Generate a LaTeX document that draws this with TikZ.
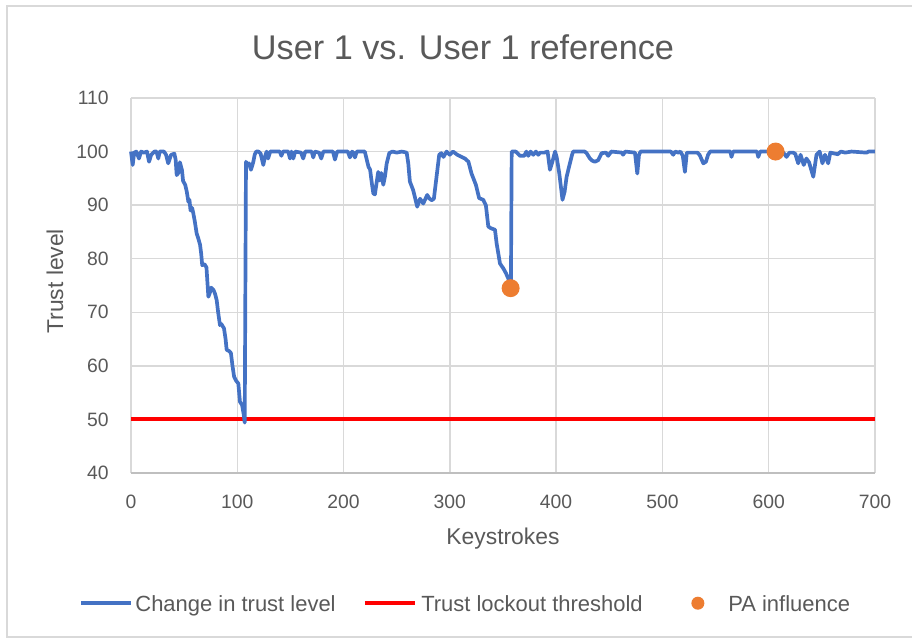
\documentclass[tikz,border=0pt]{standalone}
\usepackage{fontspec}
\setmainfont{Liberation Sans}
\definecolor{trustblue}{HTML}{4472C4}
\definecolor{lockred}{HTML}{FF0000}
\definecolor{paorange}{HTML}{ED7D31}
\definecolor{gridgray}{HTML}{D9D9D9}
\definecolor{axisgray}{HTML}{BFBFBF}
\definecolor{textgray}{HTML}{595959}
\begin{document}
\begin{tikzpicture}[
  ticklab/.style={text=textgray,font=\fontsize{11}{13}\selectfont},
  axlab/.style={text=textgray,font=\fontsize{13}{15}\selectfont},
  leglab/.style={text=textgray,font=\fontsize{12.5}{15}\selectfont,anchor=base west,inner sep=0pt},
  gridline/.style={draw=gridgray,line width=.8pt},
  padot/.style={circle,fill=paorange,inner sep=0pt,minimum size=.36cm}]
\useasboundingbox (0,0) rectangle (18.24,12.76);
\draw[gridgray,line width=1pt] (0.14,0.02) rectangle (18.4,12.64);
\begin{scope}[shift={(2.62,-0.986)},x=0.021257cm,y=0.10714cm]
\foreach \y in {50,60,...,110}
\draw[gridline] (700,\y) -- (0,\y) node[ticklab,anchor=east,xshift=-9pt] {\y};
\foreach \x in {0,100,...,700}
\draw[gridline] (\x,110) -- (\x,40) node[ticklab,anchor=north,yshift=-9pt] {\x};
\draw[axisgray,line width=.8pt] (700,40) -- (0,40) node[ticklab,anchor=east,xshift=-9pt] {40};
\draw[lockred,line width=2.2pt] (0,50) -- (700,50); % lockout at 50
\draw[trustblue,line width=2.1pt,line join=round] plot coordinates {
  (0,100) (1.6,97.5) (3,99.8) (5,100) (7.5,98.7) (9.5,100) (12,99.8) (15,100)
  (17,98.1) (19,99.4) (22,100) (24,100) (25.7,98.7) (27,100) (31,100) (33,99.4)
  (35,97.8) (37.7,99.4) (40.8,99.6) (42,98.5) (43,95.6) (44.5,96) (46,98) (48,96.5)
  (49,94.5) (51,93.8) (52.5,92.5) (54,90.6) (55,91) (56,89) (57.5,89.5) (58.6,88.5)
  (60,87) (61.8,84.7) (63,84) (65,82.6) (66,81) (67,78.8) (69,79) (71,78.4)
  (72.8,72.9) (74,73.5) (75.5,74.6) (77.5,74.2) (79,73.5) (80.6,72.3) (82,70)
  (83.7,67.6) (85,67.8) (87.5,67) (89,65) (90,63) (92,62.8) (94,62.4) (95.5,60)
  (97,58) (99,57.2) (101,56.7) (102.5,53.3) (104.5,52.7) (106,51) (107,49.4)
  (108.2,98.1) (109.5,97.5) (111,97.8) (112.9,96.6) (115,98) (116.5,99.5)
  (117.9,100) (120,100) (122,99.6) (124.5,97.5) (126,99) (127.6,100) (129,98.7)
  (131,100) (140,100) (141.5,99.2) (143,100) (148,100) (149.6,98.7) (151,100)
  (152.7,98.7) (154.5,100) (160,99.8) (162,98.7) (164,100) (170,100) (171.5,98.9)
  (173,100) (177,99.8) (179,98.7) (181,100) (190,100) (191.9,98.5) (194,100)
  (204,100) (206,98.9) (208,100) (209,99.8) (210.7,98.9) (212.5,100) (220,100)
  (223.4,97.2) (225,96.6) (226.6,94.1) (228,92.2) (229.5,92) (232.6,96.2)
  (234,94.6) (235.5,96) (237.4,93.8) (239,95.4) (240.6,97.8) (243,99.7) (246,100)
  (250,99.8) (255,100) (259.4,99.8) (260.9,97.8) (262.4,94.4) (265.5,92.8)
  (267,91.6) (269.3,89.7) (272,91.2) (275,90.3) (278.7,91.9) (280.5,91.3)
  (282.8,90.9) (285,91.2) (287.5,95.3) (290,99.4) (292,99.7) (294,99) (297,100)
  (300,99.4) (303,100) (307,99.4) (314.2,98.7) (317.5,98.1) (320.4,95.9)
  (324.5,93.8) (327.6,91.3) (331.4,91) (333.9,90) (336.2,86) (338.5,85.7)
  (342.5,85.4) (344,82.9) (347.2,79.1) (350.3,78.2) (352.8,77.3) (355,76.3)
  (357.5,75.5) (358.2,100) (362,100) (366,99.2) (370,99.2) (372,100) (373.8,99.2)
  (376,100) (378.5,99.4) (381,100) (383.2,99.4) (385,99.8) (389,99.8) (392,100)
  (394.2,96.6) (396.5,98.1) (399,100) (400.5,99) (403,95.9) (406,91) (408,92.5)
  (409.9,95.3) (411.5,96.6) (413,97.8) (415,99.4) (416,100) (427,100) (428.7,99.7)
  (431.8,98.7) (434,98.3) (436.5,98.1) (439.6,98.4) (442.8,99.7) (447,99.8)
  (449,99.2) (452,100) (462,99.8) (463,99.4) (465,100) (474.2,99.8) (476.4,95.9)
  (478,99.4) (479.5,100) (508,100) (510.2,99.4) (512,100) (515,99.8) (517,100)
  (519.2,99.2) (521.2,96.2) (523,99.8) (533,99.8) (535,99.4) (538.5,97.8)
  (541,98.1) (543,99.4) (545,100) (564,100) (565,99) (566.5,100) (589,100)
  (590.2,99) (592,100) (613,100) (616.8,99) (619.5,99.8) (622.9,99.8) (625,99.6)
  (627.8,97.8) (630,99.4) (633,97.5) (635.5,98.7) (638,98) (642,95.3) (645,99.4)
  (648,100) (650.6,97.8) (653,99.4) (656,97.8) (658,99.8) (665,99.5) (668,100)
  (672,99.8) (678,100) (692,99.8) (694,100) (700,100)};
\node[padot] (pa1) at (357.2,74.5) {};
\node[padot] (pa2) at (606.5,100) {};
% labels
\node[text=textgray,font=\fontsize{19.5}{23}\selectfont] (title) at (312.4,119.5)
  {User 1 vs. User 1 reference};
\node[axlab] (xlab) at (350,27.7) {Keystrokes};
\node[axlab,rotate=90] (ylab) at (-71.5,75.8) {Trust level};
% legend
\draw[trustblue,line width=2pt] (-47,15.7) -- (0,15.7);
\node[leglab] (legtrust) at (3.8,14.2) {Change in trust level};
\draw[lockred,line width=2.2pt] (220,15.7) -- (267,15.7);
\node[leglab] (leglock) at (272.8,14.2) {Trust lockout threshold};
\node[padot,minimum size=.26cm] (legpa) at (533.4,15.7) {};
\node[leglab] (legpatext) at (561.7,14.2) {PA influence};
\end{scope}
\end{tikzpicture}
\end{document}
